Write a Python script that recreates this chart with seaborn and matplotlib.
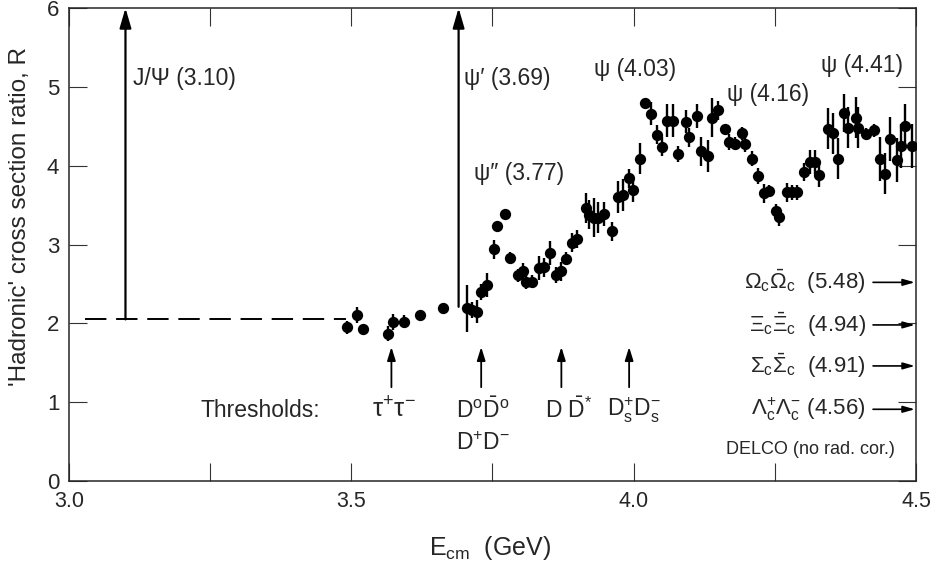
import matplotlib
matplotlib.use("Agg")
import matplotlib.pyplot as plt
import seaborn as sns
import pandas as pd

# Measured R values (DELCO), centre-of-mass energy in GeV
energy = [3.492, 3.510, 3.520, 3.565, 3.573, 3.593, 3.621, 3.662, 3.704, 3.713,
          3.722, 3.729, 3.740, 3.752, 3.758, 3.772, 3.781, 3.795, 3.804, 3.809,
          3.820, 3.832, 3.841, 3.851, 3.862, 3.871, 3.881, 3.890, 3.900, 3.915,
          3.921, 3.930, 3.936, 3.947, 3.961, 3.972, 3.982, 3.991, 3.999, 4.011,
          4.021, 4.030, 4.042, 4.050, 4.059, 4.070, 4.078, 4.093, 4.098, 4.112,
          4.120, 4.132, 4.139, 4.149, 4.161, 4.169, 4.180, 4.192, 4.198, 4.209,
          4.220, 4.231, 4.239, 4.253, 4.258, 4.271, 4.280, 4.290, 4.301, 4.312,
          4.322, 4.329, 4.344, 4.353, 4.362, 4.372, 4.379, 4.393, 4.398, 4.411,
          4.425, 4.436, 4.445, 4.454, 4.467, 4.473, 4.481, 4.493]
ratio = [1.95, 2.11, 1.93, 1.87, 2.02, 2.02, 2.11, 2.20, 2.19, 2.17,
         2.15, 2.40, 2.49, 2.94, 3.24, 3.39, 2.83, 2.61, 2.66, 2.53,
         2.53, 2.70, 2.71, 2.89, 2.61, 2.66, 2.82, 3.02, 3.07, 3.46,
         3.38, 3.34, 3.34, 3.39, 3.17, 3.60, 3.63, 3.84, 3.69, 4.09,
         4.80, 4.66, 4.39, 4.24, 4.57, 4.57, 4.15, 4.56, 4.36, 4.63,
         4.18, 4.12, 4.61, 4.70, 4.46, 4.30, 4.28, 4.41, 4.27, 4.09,
         3.87, 3.65, 3.68, 3.42, 3.35, 3.66, 3.66, 3.66, 3.92, 4.05,
         4.05, 3.88, 4.47, 4.41, 4.09, 4.67, 4.48, 4.61, 4.48, 4.40,
         4.45, 4.09, 3.90, 4.34, 4.07, 4.25, 4.50, 4.25]
error = [0.08, 0.10, 0.05, 0.10, 0.10, 0.08, 0.05, 0.05, 0.30, 0.10,
         0.15, 0.10, 0.15, 0.12, 0.05, 0.05, 0.08, 0.08, 0.10, 0.10,
         0.08, 0.15, 0.12, 0.15, 0.10, 0.12, 0.08, 0.12, 0.12, 0.19,
         0.18, 0.25, 0.20, 0.15, 0.12, 0.20, 0.20, 0.12, 0.15, 0.20,
         0.05, 0.15, 0.12, 0.12, 0.21, 0.21, 0.10, 0.15, 0.12, 0.15,
         0.18, 0.20, 0.25, 0.12, 0.05, 0.10, 0.08, 0.08, 0.10, 0.10,
         0.10, 0.12, 0.08, 0.10, 0.12, 0.12, 0.10, 0.10, 0.12, 0.15,
         0.15, 0.15, 0.26, 0.26, 0.26, 0.24, 0.26, 0.26, 0.26, 0.08,
         0.08, 0.28, 0.26, 0.28, 0.28, 0.28, 0.28, 0.28]

# Narrow resonances (arrows)
narrow_mass = [3.10, 3.69]
narrow_base = [2.05, 2.21]
continuum_R = 2.05

# Open-charm / lepton thresholds along the energy axis
threshold_E = [3.571, 3.730, 3.872, 3.992]
# Baryon thresholds beyond the plotted range
baryon_labels = [r"$\Omega_c\bar{\Omega}_c$  (5.48)", r"$\Xi_c\bar{\Xi}_c$  (4.94)",
                 r"$\Sigma_c\bar{\Sigma}_c$  (4.91)", r"$\Lambda_c^{+}\Lambda_c^{-}$ (4.56)"]
baryon_y = [2.52, 1.98, 1.46, 0.91]

df = pd.DataFrame({"E": energy, "R": ratio, "err": error})

sns.set_style("ticks")
plt.rcParams["font.family"] = ["Liberation Sans", "DejaVu Sans"]
plt.rcParams["mathtext.fontset"] = "custom"
plt.rcParams["mathtext.rm"] = "Liberation Sans"
plt.rcParams["mathtext.it"] = "Liberation Sans"
plt.rcParams["mathtext.bf"] = "Liberation Sans:bold"
plt.rcParams["mathtext.default"] = "rm"

fig = plt.figure(figsize=(9.30, 5.63), dpi=100)
ax = fig.add_axes([0.0742, 0.1456, 0.9107, 0.8402])

ax.errorbar(df["E"], df["R"], yerr=df["err"], fmt="none", ecolor="black",
            elinewidth=1.7, capsize=0, zorder=2)
sns.scatterplot(data=df, x="E", y="R", ax=ax, color="black", s=66,
                edgecolor="black", linewidth=0, zorder=3, legend=False)

ax.set_xlim(3.0, 4.5)
ax.set_ylim(0, 6)
ax.set_xticks([3.0, 3.5, 4.0, 4.5])
ax.set_xticklabels(["3.0", "3.5", "4.0", "4.5"])
ax.set_xticks([3.25, 3.75, 4.25], minor=True)
ax.set_yticks(range(0, 7))
ax.tick_params(axis="both", which="both", direction="in", length=13, width=0.8,
               top=True, right=True, color="#333333")
ax.tick_params(axis="x", labelsize=15.5, pad=7)
ax.tick_params(axis="y", labelsize=16, pad=7)
for sp in ax.spines.values():
    sp.set_linewidth(1.1)

ax.set_xlabel(r"E$_{\mathrm{cm}}$  (GeV)", fontsize=18)
ax.xaxis.set_label_coords(0.497, -0.112)
ax.set_ylabel("'Hadronic' cross section ratio, R", fontsize=17.5)
ax.yaxis.set_label_coords(-0.045, 0.56)

# Continuum level and narrow resonances
ax.plot([3.028, 3.49], [continuum_R, continuum_R], color="black", lw=1.4,
        dashes=(11, 5))
for m, b in zip(narrow_mass, narrow_base):
    ax.annotate("", xy=(m, 6.0), xytext=(m, b),
                arrowprops=dict(arrowstyle="-|>,head_length=1.2,head_width=0.35",
                                color="black", lw=1.6, shrinkA=0, shrinkB=0))

fs = 16.5
ax.text(3.113, 5.10, "J/Ψ (3.10)", fontsize=fs, va="center", ha="left")
ax.text(3.700, 5.10, "ψ′ (3.69)", fontsize=fs, va="center", ha="left")
ax.text(3.717, 3.90, "ψ″ (3.77)", fontsize=fs, va="center", ha="left")
ax.text(3.929, 5.22, "ψ (4.03)", fontsize=fs, va="center", ha="left")
ax.text(4.165, 4.90, "ψ (4.16)", fontsize=fs, va="center", ha="left")
ax.text(4.331, 5.27, "ψ (4.41)", fontsize=fs, va="center", ha="left")

# Threshold markers
for e in threshold_E:
    ax.annotate("", xy=(e, 1.70), xytext=(e, 1.19),
                arrowprops=dict(arrowstyle="-|>,head_length=0.8,head_width=0.25",
                                color="black", lw=1.3, shrinkA=0, shrinkB=0))
ax.text(3.232, 0.90, "Thresholds:", fontsize=fs, va="center", ha="left")
ax.text(3.575, 0.90, r"$\tau^{+}\tau^{-}$", fontsize=fs + 2, va="center", ha="center")
ax.text(3.733, 0.90, r"$D^{o}\bar{D}^{o}$", fontsize=fs, va="center", ha="center")
ax.text(3.733, 0.47, r"$D^{+}D^{-}$", fontsize=fs, va="center", ha="center")
ax.text(3.886, 0.90, r"$D\ \bar{D}^{*}$", fontsize=fs, va="center", ha="center")
ax.text(4.000, 0.90, r"$D_s^{+}D_s^{-}$", fontsize=fs, va="center", ha="center")

for lab, y in zip(baryon_labels, baryon_y):
    ax.text(4.411, y, lab, fontsize=16, va="center", ha="right")
    ax.annotate("", xy=(4.498, y), xytext=(4.424, y),
                arrowprops=dict(arrowstyle="-|>,head_length=0.7,head_width=0.2",
                                color="black", lw=1.2, shrinkA=0, shrinkB=0))

ax.text(4.462, 0.40, "DELCO (no rad. cor.)", fontsize=13, va="center", ha="right")

fig.savefig("out.png", dpi=100)
